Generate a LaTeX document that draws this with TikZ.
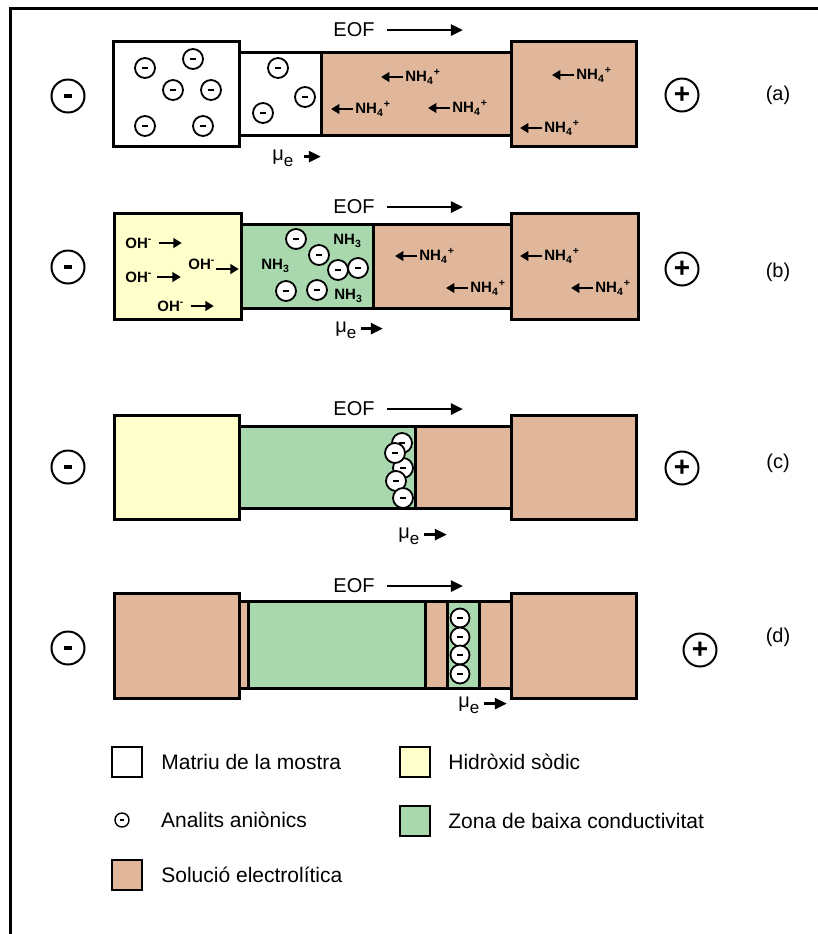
\documentclass[tikz,border=0pt]{standalone}
\usepackage{fontspec}
\setmainfont{Liberation Sans}
\usetikzlibrary{arrows.meta,positioning}

\definecolor{sol}{RGB}{224,183,155}
\definecolor{naoh}{RGB}{255,255,204}
\definecolor{lowc}{RGB}{169,216,174}

\newcommand{\minusbar}{\rule{4pt}{1.6pt}}
\newcommand{\anbar}{\rule{2.6pt}{1.4pt}}

\begin{document}
\begin{tikzpicture}[x=0.5pt,y=-0.5pt,
  wall/.style={draw, line width=1.5pt},
  pole/.style={draw, circle, line width=1pt, minimum size=16.5pt, inner sep=0pt, font=\fontsize{14}{14}\selectfont\bfseries},
  anion/.style={draw, circle, fill=white, line width=0.9pt, minimum size=10pt, inner sep=0pt},
  ion/.style={inner sep=0pt, anchor=west, font=\fontsize{7.5}{8}\selectfont\bfseries},
  ionarrow/.style={-{Triangle[length=4.2pt,width=4.8pt]}, line width=1.1pt},
  flow/.style={-{Triangle[length=6pt,width=5.5pt]}, line width=1.3pt},
  txt/.style={inner sep=0pt, font=\fontsize{10}{12}\selectfont},
  key/.style={draw, line width=1pt, minimum width=15pt, minimum height=15pt, inner sep=0pt},
  keytxt/.style={inner sep=0pt, font=\fontsize{10.5}{12}\selectfont},
]
\useasboundingbox (0,0) rectangle (818,934);
\draw[line width=1.5pt] (818,8) -- (10,8) -- (10,934);

% (a)
\draw[wall, fill=white] (239,52) rectangle (321,135);
\draw[wall, fill=sol] (321,52) rectangle (511,135);
\draw[wall, fill=white] (113,41) rectangle (239,146);
\draw[wall, fill=sol] (511,41) rectangle (636,146);
\node[pole] (negA) at (68,96) {\minusbar};
\node[pole] (posA) at (682,95) {+};
\node[txt] (labA) at (778,95) {(a)};
\node[txt] (eofA) at (354,30) {EOF};
\draw[flow] ([xshift=6pt]eofA.east) -- ++(76,0);
\node[txt, anchor=base west] (muA) at (272,160) {μ\raisebox{-3pt}{\fontsize{8.5}{9}\selectfont e}};
\draw[flow] ([xshift=5pt,yshift=1.7pt]muA.base east) -- ++(17,0);
\foreach \p [count=\i] in {(145,68),(193,59),(173,90),(211,90),(145,126),(203,126),(278,68),(305,97),(263,113)}
  \node[anion] (anA\i) at \p {\anbar};
\foreach \p [count=\i] in {(405,77),(355,109),(452,108),(576,75),(544,128)} {
  \node[ion] (nhA\i) at \p {NH\textsubscript{4}\textsuperscript{+}};
  \draw[ionarrow] ([xshift=-1pt]nhA\i.west) -- ++(-22,0);
}

% (b)
\draw[wall, fill=lowc] (241,224) rectangle (373,308);
\draw[wall, fill=sol] (373,224) rectangle (511,308);
\draw[wall, fill=naoh] (114,213) rectangle (241,319);
\draw[wall, fill=sol] (511,213) rectangle (638,319);
\node[pole] (negB) at (68,267) {\minusbar};
\node[pole] (posB) at (682,269) {+};
\node[txt] (labB) at (778,272) {(b)};
\node[txt] (eofB) at (354,207) {EOF};
\draw[flow] ([xshift=6pt]eofB.east) -- ++(76,0);
\node[txt, anchor=base west] (muB) at (335,332) {μ\raisebox{-3pt}{\fontsize{8.5}{9}\selectfont e}};
\draw[flow] ([xshift=2pt,yshift=1.7pt]muB.base east) -- ++(22,0);
\node[ion] (ohB1) at (125,243) {OH\textsuperscript{-}};
\draw[ionarrow] ([xshift=3pt]ohB1.east) -- ++(23,0);
\node[ion] (ohB2) at (125,277) {OH\textsuperscript{-}};
\draw[ionarrow] ([xshift=2pt]ohB2.east) -- ++(24,0);
\node[ion] (ohB3) at (188,264) {OH\textsuperscript{-}};
\draw[ionarrow] ([yshift=-2.5pt]ohB3.east) -- ++(23,0);
\node[ion] (ohB4) at (157,306) {OH\textsuperscript{-}};
\draw[ionarrow] ([xshift=3pt]ohB4.east) -- ++(23,0);
\node[ion] (nh3B1) at (333,241) {NH\textsubscript{3}};
\node[ion] (nh3B2) at (261,266) {NH\textsubscript{3}};
\node[ion] (nh3B3) at (334,296) {NH\textsubscript{3}};
\foreach \p [count=\i] in {(296,239),(319,255),(338,270),(358,268),(286,291),(317,290)}
  \node[anion] (anB\i) at \p {\anbar};
\foreach \p [count=\i] in {(419,256),(470,288),(544,256),(595,288)} {
  \node[ion] (nhB\i) at \p {NH\textsubscript{4}\textsuperscript{+}};
  \draw[ionarrow] ([xshift=-1pt]nhB\i.west) -- ++(-22,0);
}

% (c)
\draw[wall, fill=lowc] (239,426) rectangle (415,508);
\draw[wall, fill=sol] (415,426) rectangle (511,508);
\draw[wall, fill=naoh] (114,415) rectangle (239,519);
\draw[wall, fill=sol] (511,415) rectangle (636,519);
\node[pole] (negC) at (68,467) {\minusbar};
\node[pole] (posC) at (682,468) {+};
\node[txt] (labC) at (778,463) {(c)};
\node[txt] (eofC) at (354,409) {EOF};
\draw[flow] ([xshift=6pt]eofC.east) -- ++(76,0);
\node[txt, anchor=base west] (muC) at (398,538) {μ\raisebox{-3pt}{\fontsize{8.5}{9}\selectfont e}};
\draw[flow] ([xshift=2pt,yshift=1.7pt]muC.base east) -- ++(23,0);
\foreach \p [count=\i] in {(402,443),(403,468),(395,453),(396,481),(403,498)}
  \node[anion] (anC\i) at \p {\anbar};

% (d)
\draw[wall, fill=sol] (239,601) rectangle (511,688);
\draw[wall, fill=lowc] (248,601) rectangle (425,688);
\draw[wall, fill=lowc] (447,601) rectangle (479,688);
\draw[wall, fill=sol] (114,593) rectangle (239,698);
\draw[wall, fill=sol] (511,593) rectangle (636,698);
\node[pole] (negD) at (68,648) {\minusbar};
\node[pole] (posD) at (700,650) {+};
\node[txt] (labD) at (778,637) {(d)};
\node[txt] (eofD) at (354,586) {EOF};
\draw[flow] ([xshift=6pt]eofD.east) -- ++(76,0);
\node[txt, anchor=base west] (muD) at (458,707) {μ\raisebox{-3pt}{\fontsize{8.5}{9}\selectfont e}};
\draw[flow] ([xshift=2pt,yshift=1.7pt]muD.base east) -- ++(23,0);
\foreach \p [count=\i] in {(460,618),(460,637),(460,655),(460,674)}
  \node[anion, minimum size=9.5pt] (anD\i) at \p {\anbar};

% legend
\node[key, fill=white] (keyMat) at (127,762) {};
\node[keytxt, right=9pt of keyMat] (txtMat) {Matriu de la mostra};
\node[key, fill=naoh] (keyNaoh) at (415,762) {};
\node[keytxt, right=8.5pt of keyNaoh] (txtNaoh) {Hidròxid sòdic};
\node[anion, minimum size=7pt, line width=0.7pt] (keyAn) at (122,820) {\rule{1.6pt}{0.8pt}};
\node[keytxt, right=15.5pt of keyAn] (txtAn) {Analits aniònics};
\node[key, fill=lowc] (keyLow) at (415,821) {};
\node[keytxt, right=8.5pt of keyLow] (txtLow) {Zona de baixa conductivitat};
\node[key, fill=sol] (keySol) at (127,875) {};
\node[keytxt, right=9pt of keySol] (txtSol) {Solució electrolítica};
\end{tikzpicture}
\end{document}
